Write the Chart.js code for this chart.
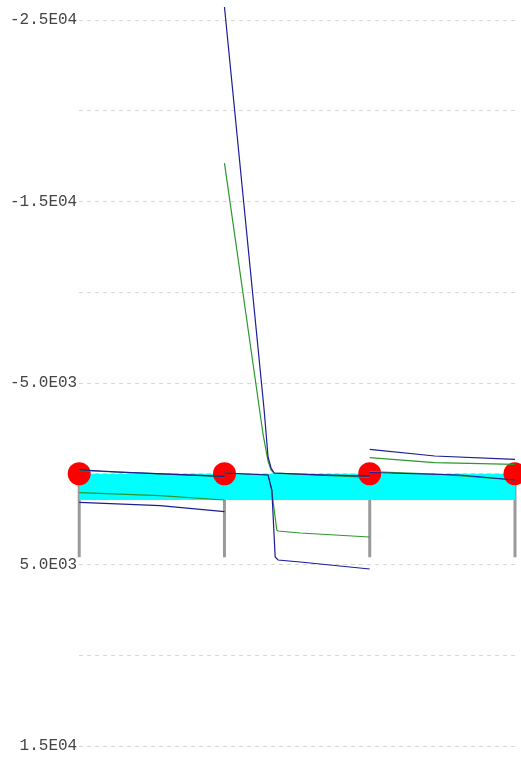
<!DOCTYPE html>
<html>
<head>
<meta charset="utf-8">
<script src="https://cdn.jsdelivr.net/npm/chart.js@4/dist/chart.umd.min.js"></script>
<style>
  html, body { margin: 0; padding: 0; background: #ffffff; }
  #wrap { width: 521px; height: 758px; }
</style>
</head>
<body>
<div id="wrap"><canvas id="chart" width="521" height="758"></canvas></div>
<script>
// Sample positions along the horizontal axis
const positions = [0, 1, 2, 3];

// Marker values at each position
const markerValues = [0, 0, 0, 0];

// Shaded band limits
const bandUpper = [0, 0, 0, 0];
const bandLower = [1450, 1450, 1450, 1450];

// Vertical stems below each marker
const stemStart = [0, 0, 0, 0];
const stemEnd = [4600, 4600, 4600, 4600];

// Axis tick values
const tickValues = [-25000, -20000, -15000, -10000, -5000, 0, 5000, 10000, 15000];

// Blue traces, one [x, y] list per piece
const blueTraces = [
  [[0, -220], [0.28, -90], [1, 150]],
  [[0, 1573], [0.557, 1760], [1, 2091]],
  [[1, -25718], [1.273, -3512], [1.300, -924], [1.321, -317], [1.342, -41], [1.65, 60], [2, 130]],
  [[1, -41], [1.300, 69], [1.326, 895], [1.349, 4587], [1.369, 4752], [1.521, 4862], [2, 5248]],
  [[2, -1347], [2.447, -978], [3, -796]],
  [[2, -69], [2.62, 69], [3, 344]]
];

// Green traces, one [x, y] list per piece
const greenTraces = [
  [[0, -180], [0.557, 10], [1, 160]],
  [[0, 1044], [0.557, 1210], [1, 1446]],
  [[1, -17113], [1.266, -2150], [1.300, -700], [1.321, -200], [1.342, -30], [2, 200]],
  [[1, -41], [1.300, 69], [1.326, 895], [1.336, 1612], [1.360, 3100], [1.369, 3155], [1.521, 3265], [2, 3486]],
  [[2, -884], [2.447, -609], [3, -521]],
  [[2, -113], [2.447, 14], [3, 344]]
];

// Join pieces into one dataset, breaking the line between them
function joinTraces(traces) {
  const out = [];
  traces.forEach((piece, i) => {
    if (i > 0) out.push({ x: piece[0][0], y: null });
    piece.forEach(p => out.push({ x: p[0], y: p[1] }));
  });
  return out;
}

const stemData = [];
positions.forEach((x, i) => {
  if (i > 0) stemData.push({ x: x, y: null });
  stemData.push({ x: x, y: stemStart[i] });
  stemData.push({ x: x, y: stemEnd[i] });
});

function sciLabel(v) {
  const parts = v.toExponential(1).split('e');
  const e = parseInt(parts[1], 10);
  return parts[0] + 'E' + (e < 0 ? '-' : '') + String(Math.abs(e)).padStart(2, '0');
}

const lineBase = { showLine: true, pointRadius: 0, borderWidth: 1, tension: 0, clip: false, spanGaps: false };

new Chart(document.getElementById('chart'), {
  type: 'scatter',
  data: {
    datasets: [
      Object.assign({}, lineBase, { label: 'blue', data: joinTraces(blueTraces), borderColor: '#1c1c96', borderWidth: 1.2, order: 0 }),
      Object.assign({}, lineBase, { label: 'green', data: joinTraces(greenTraces), borderColor: '#2c982c', borderWidth: 1.2, order: 0 }),
      {
        label: 'markers',
        data: positions.map((x, i) => ({ x: x, y: markerValues[i] })),
        pointRadius: 11.5, pointBackgroundColor: '#ff0000', pointBorderWidth: 0,
        pointBorderColor: '#ff0000', showLine: false, clip: false, order: 1
      },
      Object.assign({}, lineBase, {
        label: 'bandTop', data: positions.map((x, i) => ({ x: x, y: bandUpper[i] })),
        borderWidth: 0, borderColor: 'rgba(0,0,0,0)', fill: false, order: 2
      }),
      Object.assign({}, lineBase, {
        label: 'bandBottom', data: positions.map((x, i) => ({ x: x, y: bandLower[i] })),
        borderWidth: 0, borderColor: 'rgba(0,0,0,0)', backgroundColor: '#00ffff', fill: '-1', order: 2
      }),
      Object.assign({}, lineBase, { label: 'stems', data: stemData, borderColor: '#9a9a9a', borderWidth: 3, order: 3 })
    ]
  },
  options: {
    responsive: false,
    animation: false,
    layout: { autoPadding: false, padding: { left: 8, right: 6, top: 20, bottom: 12 } },
    plugins: { legend: { display: false }, tooltip: { enabled: false } },
    scales: {
      x: { type: 'linear', min: 0, max: 3, display: false },
      y: {
        type: 'linear',
        reverse: true,
        min: tickValues[0],
        max: tickValues[tickValues.length - 1],
        afterBuildTicks: (axis) => { axis.ticks = tickValues.map(v => ({ value: v })); },
        ticks: {
          padding: 2,
          color: '#444444',
          font: { family: "'Liberation Mono', monospace", size: 16 },
          callback: (value, index) => (index % 2 === 0 ? sciLabel(value) : '')
        },
        grid: { color: '#d8d8d8', lineWidth: 1, drawTicks: false },
        border: { display: false, dash: [4, 4] }
      }
    }
  }
});
</script>
</body>
</html>
